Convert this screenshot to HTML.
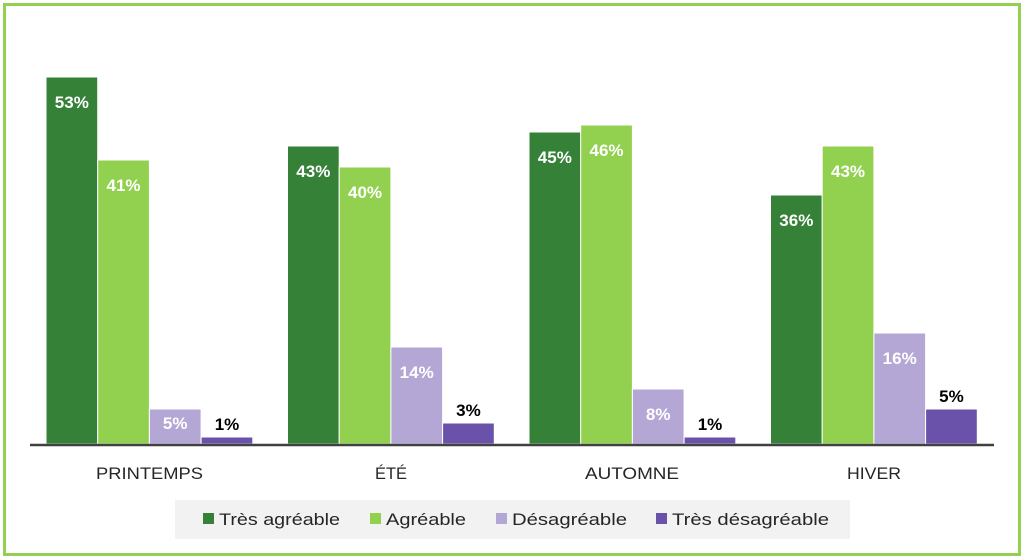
<!DOCTYPE html>
<html><head><meta charset="utf-8"><style>
html,body{margin:0;padding:0;background:#fff}
svg{display:block}
text{font-family:"Liberation Sans",sans-serif}
</style></head><body>
<svg width="1024" height="560" viewBox="0 0 1024 560" xmlns="http://www.w3.org/2000/svg">
<rect x="0" y="0" width="1024" height="560" fill="#fff"/>
<rect x="4.5" y="4.5" width="1015" height="550" fill="none" stroke="#92d050" stroke-width="3"/>
<g stroke="#fff" stroke-width="1">
<rect x="46" y="77" width="51.7" height="367" fill="#358138"/>
<rect x="97.7" y="160" width="51.7" height="284" fill="#92d050"/>
<rect x="149.4" y="409" width="51.7" height="35" fill="#b4a7d6"/>
<rect x="201.1" y="437" width="51.7" height="7" fill="#6a51a9"/>
<rect x="287.5" y="146" width="51.7" height="298" fill="#358138"/>
<rect x="339.2" y="167" width="51.7" height="277" fill="#92d050"/>
<rect x="390.9" y="347" width="51.7" height="97" fill="#b4a7d6"/>
<rect x="442.6" y="423" width="51.7" height="21" fill="#6a51a9"/>
<rect x="529" y="132" width="51.7" height="312" fill="#358138"/>
<rect x="580.7" y="125" width="51.7" height="319" fill="#92d050"/>
<rect x="632.4" y="389" width="51.7" height="55" fill="#b4a7d6"/>
<rect x="684.1" y="437" width="51.7" height="7" fill="#6a51a9"/>
<rect x="770.5" y="195" width="51.7" height="249" fill="#358138"/>
<rect x="822.2" y="146" width="51.7" height="298" fill="#92d050"/>
<rect x="873.9" y="333" width="51.7" height="111" fill="#b4a7d6"/>
<rect x="925.6" y="409" width="51.7" height="35" fill="#6a51a9"/>
</g>
<line x1="30" y1="445" x2="994" y2="445" stroke="#404040" stroke-width="2.5"/>
<g font-size="17" font-weight="bold" text-anchor="middle" fill="#fff">
<text x="71.8" y="108">53%</text>
<text x="123.5" y="191">41%</text>
<text x="175.2" y="429">5%</text>
<text x="313.3" y="177">43%</text>
<text x="365" y="198">40%</text>
<text x="416.7" y="378">14%</text>
<text x="554.8" y="163">45%</text>
<text x="606.5" y="156">46%</text>
<text x="658.2" y="420">8%</text>
<text x="796.3" y="226">36%</text>
<text x="848" y="177">43%</text>
<text x="899.7" y="364">16%</text>
</g>
<g font-size="17" font-weight="bold" text-anchor="middle" fill="#000">
<text x="227" y="430">1%</text>
<text x="468.4" y="416">3%</text>
<text x="710" y="430">1%</text>
<text x="951.4" y="402">5%</text>
</g>
<g font-size="17" fill="#262626">
<text x="96" y="479" textLength="107" lengthAdjust="spacingAndGlyphs">PRINTEMPS</text>
<text x="375" y="479" textLength="32" lengthAdjust="spacingAndGlyphs">ÉTÉ</text>
<text x="585" y="479" textLength="94" lengthAdjust="spacingAndGlyphs">AUTOMNE</text>
<text x="847" y="479" textLength="54" lengthAdjust="spacingAndGlyphs">HIVER</text>
</g>
<rect x="175" y="500" width="675" height="39" fill="#f2f2f2"/>
<g font-size="17" fill="#262626">
<rect x="203" y="513" width="11" height="11" fill="#358138"/>
<text x="219" y="525" textLength="121" lengthAdjust="spacingAndGlyphs">Très agréable</text>
<rect x="370" y="513" width="11" height="11" fill="#92d050"/>
<text x="386" y="525" textLength="80" lengthAdjust="spacingAndGlyphs">Agréable</text>
<rect x="496" y="513" width="11" height="11" fill="#b4a7d6"/>
<text x="512" y="525" textLength="115" lengthAdjust="spacingAndGlyphs">Désagréable</text>
<rect x="656" y="513" width="11" height="11" fill="#6a51a9"/>
<text x="672" y="525" textLength="157" lengthAdjust="spacingAndGlyphs">Très désagréable</text>
</g>
</svg>
</body></html>
